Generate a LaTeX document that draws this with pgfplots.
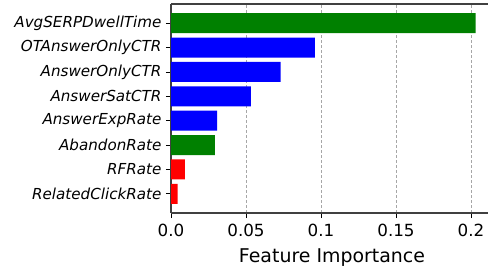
\documentclass[border=0pt]{standalone}
\usepackage{pgfplots}
\pgfplotsset{compat=1.18}
\usepackage{fontspec}
\setmainfont{DejaVu Sans}
\definecolor{mgreen}{RGB}{0,128,0}
\definecolor{mblue}{RGB}{0,0,255}
\definecolor{mred}{RGB}{255,0,0}
\begin{document}
\begin{tikzpicture}
\begin{axis}[
  at={(171bp,57bp)}, anchor=south west,
  scale only axis, width=322bp, height=209bp,
  xmin=0, xmax=0.21467, ymin=-0.79, ymax=7.79,
  xbar, bar width=20bp, bar shift=0pt,
  xtick={0,0.05,0.1,0.15,0.2}, xticklabels={0.0,0.05,0.1,0.15,0.2},
  ytick={0,...,7},
  yticklabels={RelatedClickRate,RFRate,AbandonRate,AnswerExpRate,AnswerSatCTR,AnswerOnlyCTR,OTAnswerOnlyCTR,AvgSERPDwellTime},
  yticklabel style={font=\fontsize{15.2}{18}\selectfont\itshape, xshift=-1bp},
  xticklabel style={font=\fontsize{16.8}{19}\selectfont, yshift=-3bp},
  xlabel={Feature Importance},
  xlabel style={font=\fontsize{19}{22}\selectfont, yshift=-5bp},
  xmajorgrids, grid style={dash pattern=on 3bp off 2bp, gray!70, line width=0.8bp},
  axis x line*=bottom, axis y line*=left,
  axis line style={black!75, line width=1.2bp},
  tick align=outside, major tick length=5bp,
  tick style={black, line width=0.9bp},
  every axis plot/.append style={draw=none},
]
\addplot[fill=mgreen] coordinates {(0.2031,7) (0.0293,2)};
\addplot[fill=mblue] coordinates {(0.0960,6) (0.0731,5) (0.0533,4) (0.0307,3)};
\addplot[fill=mred] coordinates {(0.0093,1) (0.0044,0)};
\draw[black!75, line width=1.2bp] (rel axis cs:0,1) -- (rel axis cs:1,1);
\end{axis}
\pgfresetboundingbox
\useasboundingbox (0,0) rectangle (488bp,270bp);
\end{tikzpicture}
\end{document}
